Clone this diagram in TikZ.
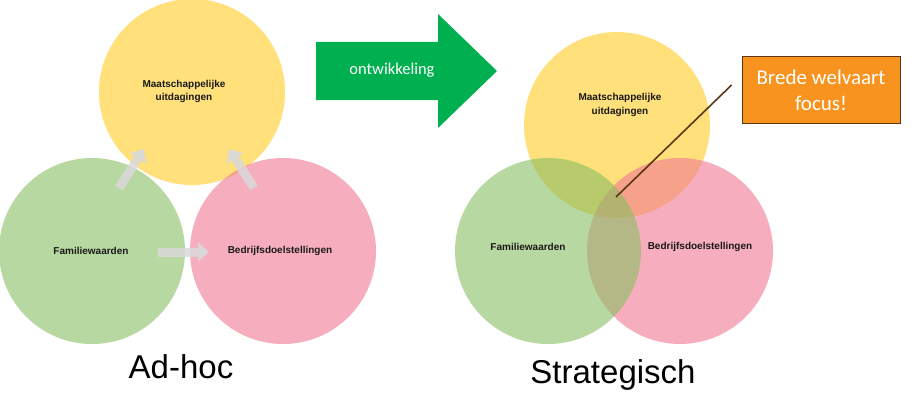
\documentclass[tikz,border=0pt]{standalone}
\usepackage{fontspec}
\setmainfont{Liberation Sans}
\newfontfamily\calib{Carlito}
\usetikzlibrary{arrows.meta,calc}
\definecolor{vnyellow}{HTML}{FFCB23}
\definecolor{vngreen}{HTML}{89BE62}
\definecolor{vnpink}{HTML}{F07894}
\definecolor{vnarrow}{HTML}{00B050}
\definecolor{vnorange}{HTML}{F7931E}
\definecolor{vnbrown}{HTML}{5A3614}
\tikzset{
  vncircle/.style={circle, minimum size=186pt, inner sep=0pt, fill opacity=0.6},
  vnlabel/.style={font=\fontsize{10}{13}\selectfont\bfseries, text=black!90, align=center, inner sep=0pt},
  vnflow/.style={line width=9pt, draw=black!15, draw opacity=0.85,
    -{Triangle[width=19pt,length=11pt]}},
  vntitle/.style={font=\fontsize{33}{36}\selectfont, text=black, inner sep=0pt},
  vnbox/.style={fill=vnorange, draw=vnbrown, line width=0.8pt, minimum width=158pt,
    minimum height=67pt, align=center, text=white, font=\calib\fontsize{21}{26}\selectfont},
  vnpointer/.style={line width=1.6pt, draw=vnbrown},
}

\begin{document}
\begin{tikzpicture}[x=1pt,y=-1pt]
\useasboundingbox (0,0) rectangle (915,404);
% ad-hoc
\node[vncircle, fill=vnyellow] (lyel) at (192,92) {};
\node[vncircle, fill=vngreen] (lgrn) at (92,251) {};
\node[vncircle, fill=vnpink] (lpnk) at (283,251) {};
\node[vnlabel] (lyeltxt) at (184,91) {Maatschappelijke\\uitdagingen};
\node[vnlabel] (lgrntxt) at (91,251) {Familiewaarden};
\node[vnlabel] (lpnktxt) at (280,251) {Bedrijfsdoelstellingen};
\coordinate (gy1) at (119,188);
\coordinate (gy2) at (144,149);
\coordinate (py1) at (254,188);
\coordinate (py2) at (229,149);
\coordinate (gp1) at (158,252);
\coordinate (gp2) at (209,252);
\draw[vnflow] (gy1) -- (gy2);
\draw[vnflow] (py1) -- (py2);
\draw[vnflow] (gp1) -- (gp2);
\node[vntitle] (adhoc) at (181,367) {Ad-hoc};
% ontwikkeling
\fill[vnarrow] (316,42) -- (438,42) -- (438,14) -- (497,71) -- (438,128) -- (438,100) -- (316,100) -- cycle;
\node[font=\calib\fontsize{16.5}{18}\selectfont, text=white] (dev) at (392,70) {ontwikkeling};
% strategisch (green laid last)
\node[vncircle, fill=vnyellow] (ryel) at (617,125) {};
\node[vncircle, fill=vnpink] (rpnk) at (680,251) {};
\node[vncircle, fill=vngreen] (rgrn) at (548,251) {};
\node[vnlabel, font=\fontsize{10}{14}\selectfont\bfseries] (ryeltxt) at (620,105) {Maatschappelijke\\uitdagingen};
\node[vnlabel] (rgrntxt) at (528,247) {Familiewaarden};
\node[vnlabel] (rpnktxt) at (700,247) {Bedrijfsdoelstellingen};
\node[vntitle] (strat) at (613,375) {Strategisch};
% focus
\node[vnbox] (focus) at (821,90) {Brede welvaart\\focus!};
\coordinate (core) at (616,197);
\draw[vnpointer] (core) -- ([xshift=-10pt,yshift=5pt]focus.west);
\end{tikzpicture}
\end{document}
